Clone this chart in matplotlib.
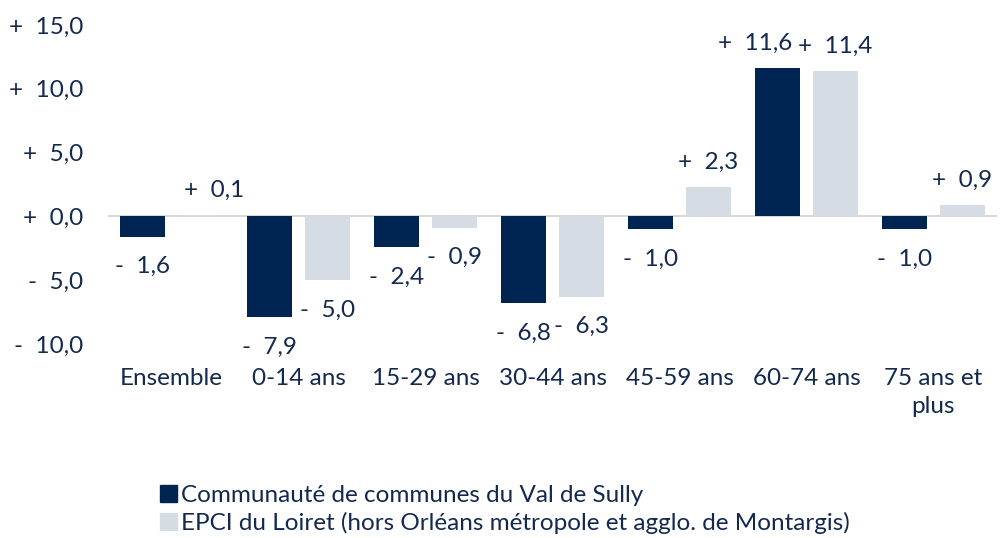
import numpy as np
import matplotlib.pyplot as plt
from matplotlib.patches import Patch

plt.rcParams['font.family'] = ['Lato', 'DejaVu Sans']

categories = ['Ensemble', '0-14 ans', '15-29 ans', '30-44 ans', '45-59 ans',
              '60-74 ans', '75 ans et\nplus']
val_sully = [-1.6, -7.9, -2.4, -6.8, -1.0, 11.6, -1.0]
val_epci = [0.1, -5.0, -0.9, -6.3, 2.3, 11.4, 0.9]
series_names = ['Communauté de communes du Val de Sully',
                'EPCI du Loiret (hors Orléans métropole et agglo. de Montargis)']

dark = '#002452'
light = '#d6dce4'
txt = '#13294f'
fs = 17.5


def fmt(v):
    sign = '+' if v >= 0 else '-'
    return f"{sign}  {abs(v):.1f}".replace('.', ',')


fig = plt.figure(figsize=(10.03, 5.38), dpi=100)
ax = fig.add_axes([0.1077, 0.3606, 0.8863, 0.5929])

x = np.arange(len(categories))
w = 0.36
off = 0.228
# small horizontal nudges so neighbouring labels don't collide
nudge_sully = [0, 0, 0, 0, 0, -16, 0]
nudge_epci = [10, 0, 0, 0, 0, 0, 0]
for vals, col, dx, nud in [(val_sully, dark, -off, nudge_sully),
                           (val_epci, light, off, nudge_epci)]:
    ax.bar(x + dx, vals, width=w, color=col, zorder=2)
    for xi, v, n in zip(x + dx, vals, nud):
        dy = 18 if v >= 0 else -21.5
        ax.annotate(fmt(v), (xi, v), xytext=(n, dy), textcoords='offset points',
                    ha='center', va='center', fontsize=fs, color=txt)

ax.axhline(0, color='#d9d9d9', lw=1.5, zorder=1)
ax.set_xlim(-0.5, len(categories) - 0.5)
ax.set_ylim(-10, 15)
ax.set_yticks([-10, -5, 0, 5, 10, 15])
ax.set_yticklabels([fmt(t) for t in [-10, -5, 0, 5, 10, 15]])
ax.set_xticks(x)
ax.set_xticklabels(categories, linespacing=1.45)
ax.tick_params(length=0, labelsize=fs, colors=txt)
ax.tick_params(axis='y', pad=18)
ax.tick_params(axis='x', pad=17)
for s in ax.spines.values():
    s.set_visible(False)

handles = [Patch(color=dark), Patch(color=light)]
fig.legend(handles, series_names, loc='upper left', bbox_to_anchor=(0.15, 0.117),
           frameon=False, fontsize=fs, handlelength=0.7, handleheight=0.7,
           handletextpad=0.15, labelspacing=0.25, borderaxespad=0, labelcolor=txt)

fig.savefig('out.png', dpi=100)
